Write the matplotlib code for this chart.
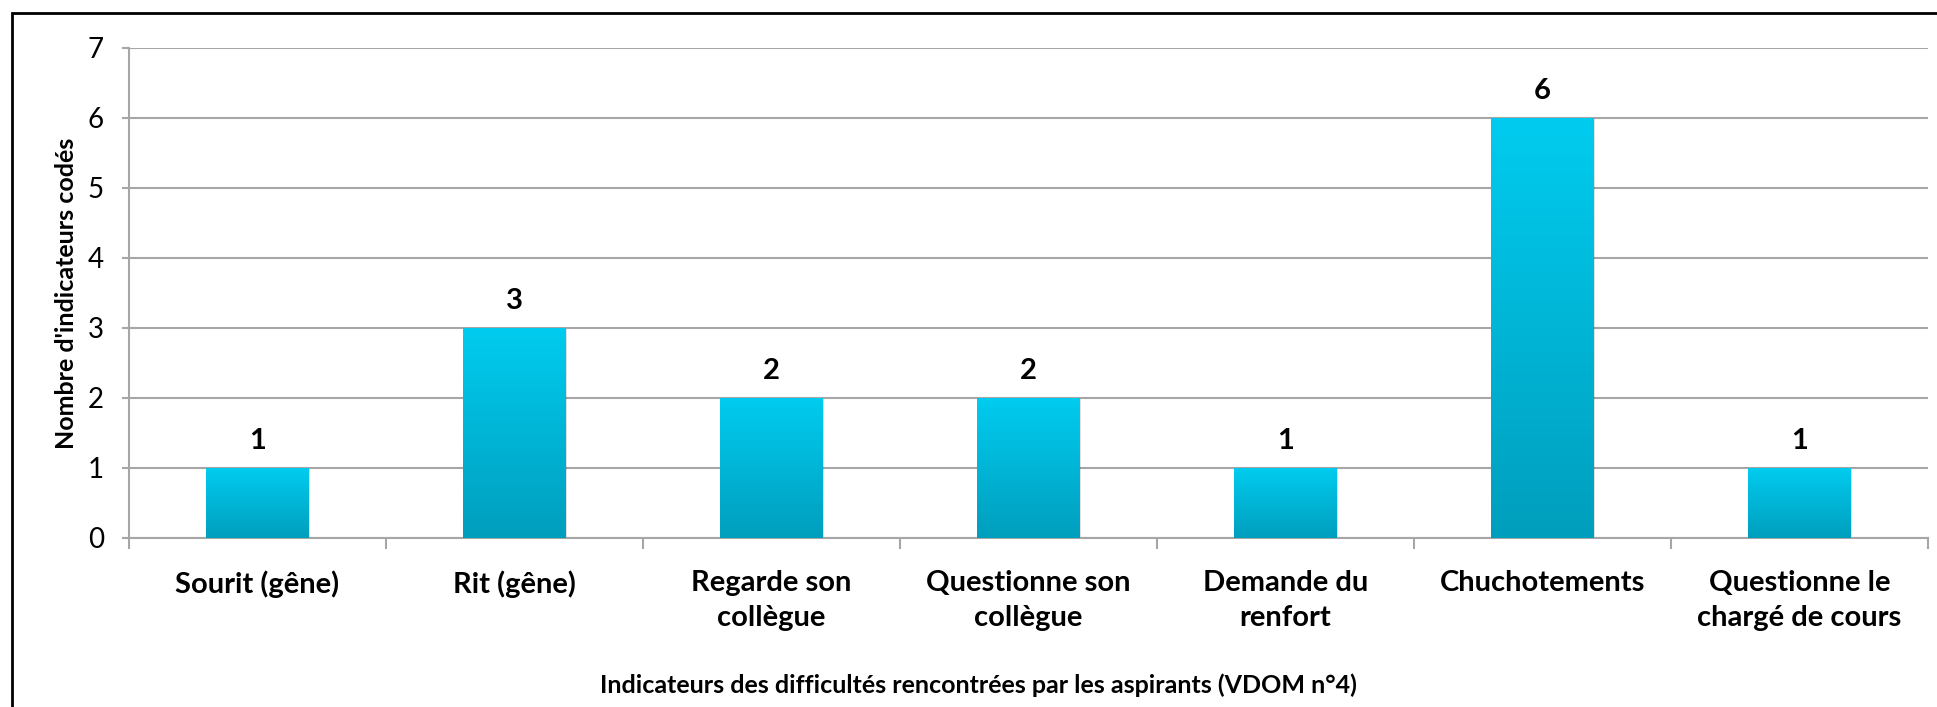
import matplotlib
matplotlib.use('Agg')
import matplotlib.pyplot as plt
import numpy as np
from matplotlib.colors import LinearSegmentedColormap
from matplotlib.patches import Rectangle

categories = ["Sourit (gêne)", "Rit (gêne)", "Regarde son\ncollègue",
              "Questionne son\ncollègue", "Demande du\nrenfort",
              "Chuchotements", "Questionne le\nchargé de cours"]
values = [1, 3, 2, 2, 1, 6, 1]
y_ticks = [0, 1, 2, 3, 4, 5, 6, 7]
y_label = "Nombre d'indicateurs codés"
x_label = "Indicateurs des difficultés rencontrées par les aspirants (VDOM n°4)"

plt.rcParams['font.family'] = ['Lato', 'DejaVu Sans']

W, H = 1937, 707
fig = plt.figure(figsize=(W / 100, H / 100), dpi=100)
ax = fig.add_axes([129 / W, (H - 538) / H, (1928 - 129) / W, (538 - 48) / H])

grid_c = '#A6A6A6'
x = np.arange(len(values))
bw = 0.40
cmap = LinearSegmentedColormap.from_list('g', ['#009EBD', '#00CCEF'])
grad = np.linspace(0, 1, 256).reshape(-1, 1)
bars = ax.bar(x, values, width=bw, color='none', zorder=3)
for xi, v in zip(x, values):
    # subtle shadow
    ax.add_patch(Rectangle((xi - bw / 2 + 0.006, 0), bw, v - 0.02, color='#000000',
                           alpha=0.12, zorder=2.5, lw=0))
    ax.imshow(grad, extent=[xi - bw / 2, xi + bw / 2, 0, v], origin='lower',
              cmap=cmap, aspect='auto', zorder=3, interpolation='bicubic')
    ax.annotate(str(v), (xi, v), xytext=(0, 14), textcoords='offset points',
                ha='center', va='baseline', fontsize=21, fontweight='bold', color='black')

ax.set_xlim(-0.5, len(values) - 0.5)
ax.set_ylim(0, 7)
ax.set_yticks(y_ticks)
ax.yaxis.grid(True, color=grid_c, lw=1.5)
ax.set_axisbelow(True)
for s in ['top', 'right']:
    ax.spines[s].set_visible(False)
for s in ['left', 'bottom']:
    ax.spines[s].set_color(grid_c)
    ax.spines[s].set_linewidth(1.5)
ax.tick_params(axis='y', direction='out', length=5, width=1.5, color=grid_c,
               labelsize=20, pad=13, labelcolor='black')
ax.set_xticks(x)
ax.set_xticklabels(categories, fontsize=21, fontweight='bold', linespacing=1.45)
ax.tick_params(axis='x', which='major', length=0, pad=23)
ax.set_xticks(np.arange(-0.5, len(values), 1), minor=True)
ax.tick_params(axis='x', which='minor', length=8, width=1.5, color=grid_c, direction='out')

fig.text(67 / W, 1 - 293 / H, y_label, rotation=90, ha='center', va='center',
         fontsize=18, fontweight='bold')
fig.text(978 / W, 1 - 685 / H, x_label, ha='center', va='center',
         fontsize=18, fontweight='bold')

fig.patches.append(Rectangle((12 / W, -0.1), 1.2, 1.1 - 13 / H, transform=fig.transFigure,
                             fill=False, ec='black', lw=2))

fig.savefig('out.png', dpi=100)
